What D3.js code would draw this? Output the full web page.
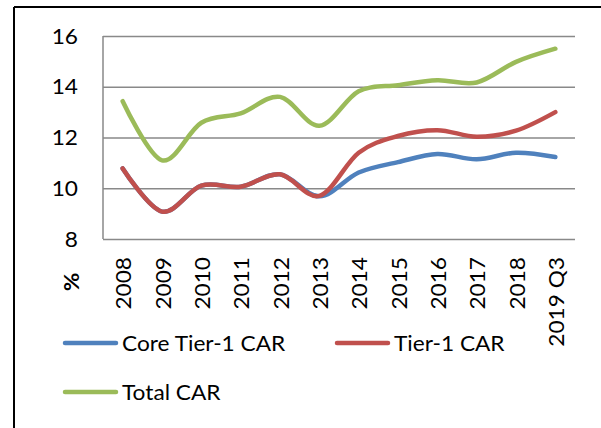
<!DOCTYPE html>
<html>
<head>
<meta charset="utf-8">
<script src="https://cdn.jsdelivr.net/npm/d3@7"></script>
<style>
  body { margin: 0; background: #fff; }
  svg text { font-family: Lato, "Open Sans", sans-serif; fill: #000; }
</style>
</head>
<body>
<svg id="chart" width="601" height="428"></svg>
<script>
const categories = ["2008", "2009", "2010", "2011", "2012", "2013", "2014", "2015", "2016", "2017", "2018", "2019 Q3"];
const coreTier1 = [10.78, 9.08, 10.1, 10.06, 10.55, 9.68, 10.62, 11.03, 11.35, 11.14, 11.4, 11.23];
const tier1 = [10.78, 9.08, 10.1, 10.06, 10.55, 9.7, 11.4, 12.06, 12.29, 12.03, 12.27, 13.0];
const totalCar = [13.43, 11.1, 12.58, 12.95, 13.6, 12.46, 13.82, 14.06, 14.26, 14.17, 14.98, 15.5];
const yTicks = [8, 10, 12, 14, 16];

const series = [
  { name: "Core Tier-1 CAR", values: coreTier1, color: "#4F81BD" },
  { name: "Tier-1 CAR", values: tier1, color: "#C0504D" },
  { name: "Total CAR", values: totalCar, color: "#9BBB59" }
];

const svg = d3.select("#chart");
const stretch = "scale(1.08,1)"; // reference font runs a bit wider than Lato

// outer frame (only top and left edges visible)
svg.append("line").attr("x1", 14).attr("x2", 601).attr("y1", 7).attr("y2", 7)
  .attr("stroke", "#000").attr("stroke-width", 2);
svg.append("line").attr("x1", 14).attr("x2", 14).attr("y1", 7).attr("y2", 428)
  .attr("stroke", "#000").attr("stroke-width", 2);

const plotLeft = 103, plotRight = 575, plotTop = 36, plotBottom = 239;

const x = d3.scaleBand().domain(categories).range([plotLeft, plotRight]);
const y = d3.scaleLinear().domain([8, 16]).range([plotBottom, plotTop]);

// grid
svg.append("g")
  .attr("transform", `translate(${plotLeft},0)`)
  .call(d3.axisLeft(y).tickValues(yTicks).tickSize(-(plotRight - plotLeft)).tickFormat(""))
  .call(g => g.select(".domain").remove())
  .call(g => g.selectAll("line").attr("stroke", "#898989").attr("stroke-width", 1.5));

svg.append("line").attr("x1", plotLeft).attr("x2", plotLeft).attr("y1", plotTop).attr("y2", plotBottom)
  .attr("stroke", "#898989").attr("stroke-width", 1.5);

// y labels
svg.append("g").selectAll("text")
  .data(yTicks)
  .join("text")
  .attr("transform", d => `translate(78,${y(d)}) ${stretch}`)
  .attr("dy", "0.36em")
  .attr("text-anchor", "end")
  .attr("font-size", 21)
  .text(d => d);

// x labels (rotated)
svg.append("g").selectAll("text")
  .data(categories)
  .join("text")
  .attr("transform", d => `translate(${x(d) + x.bandwidth() / 2 + 1},257) rotate(-90) ${stretch}`)
  .attr("dy", "0.36em")
  .attr("text-anchor", "end")
  .attr("font-size", 21)
  .text(d => d);

svg.append("text")
  .attr("transform", `translate(71,282) rotate(-90) ${stretch}`)
  .attr("dy", "0.36em")
  .attr("text-anchor", "middle")
  .attr("font-size", 21)
  .attr("font-weight", "bold")
  .text("%");

// lines
const line = d3.line()
  .x((d, i) => x(categories[i]) + x.bandwidth() / 2)
  .y(d => y(d))
  .curve(d3.curveCatmullRom.alpha(0));

svg.append("g").selectAll("path")
  .data(series)
  .join("path")
  .attr("d", d => line(d.values))
  .attr("fill", "none")
  .attr("stroke", d => d.color)
  .attr("stroke-width", 4.5)
  .attr("stroke-linecap", "round")
  .attr("stroke-linejoin", "round");

// legend
const legendPos = [[63, 343], [335, 343], [63, 392]];
const legend = svg.append("g").selectAll("g")
  .data(series)
  .join("g")
  .attr("transform", (d, i) => `translate(${legendPos[i][0]},${legendPos[i][1]})`);
legend.append("line")
  .attr("x1", 2).attr("x2", 53)
  .attr("stroke", d => d.color)
  .attr("stroke-width", 4.5)
  .attr("stroke-linecap", "round");
legend.append("text")
  .attr("transform", `translate(59,0) ${stretch}`)
  .attr("dy", "0.36em")
  .attr("font-size", 21)
  .text(d => d.name);
</script>
</body>
</html>
